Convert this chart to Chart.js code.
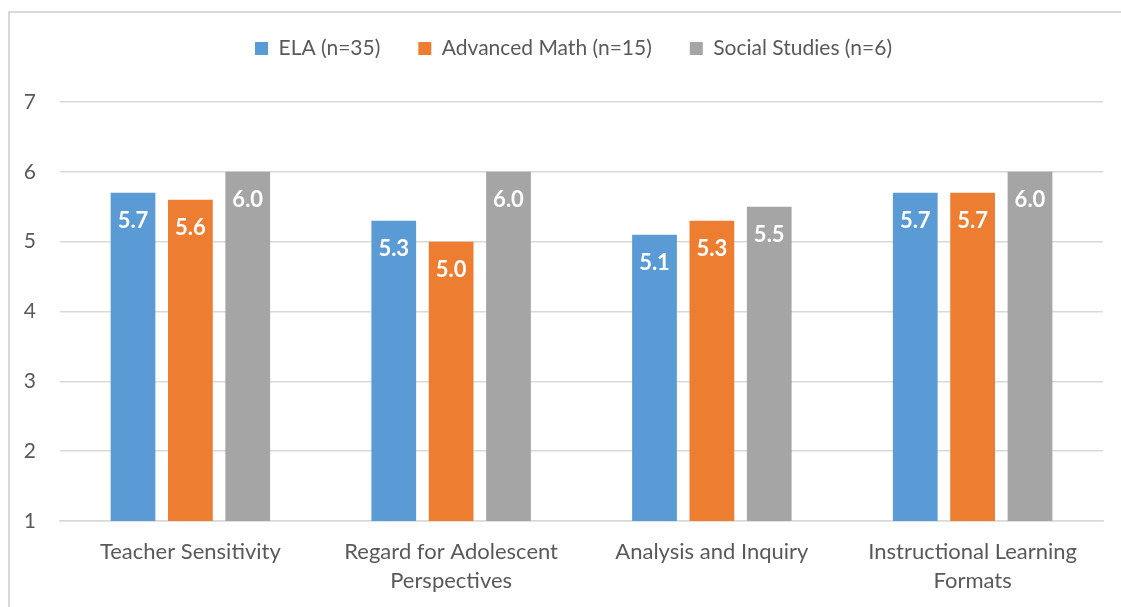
<!DOCTYPE html>
<html>
<head>
<meta charset="utf-8">
<script src="https://cdn.jsdelivr.net/npm/chart.js@4/dist/chart.umd.min.js"></script>
<style>
  html, body { margin: 0; padding: 0; background: #fff; overflow: hidden; }
  #frame {
    position: absolute; left: 8px; top: 11px;
    width: 1200px; height: 700px;
    border: 2px solid #d9d9d9; box-sizing: border-box;
  }
  #chart { position: absolute; left: 0; top: 0; }
</style>
</head>
<body>
<div id="frame"></div>
<canvas id="chart" width="1121" height="607"></canvas>
<script>
'use strict';

var categories = [
  'Teacher Sensitivity',
  ['Regard for Adolescent', 'Perspectives'],
  'Analysis and Inquiry',
  ['Instructional Learning', 'Formats']
];
var elaScores = [5.7, 5.3, 5.1, 5.7];
var mathScores = [5.6, 5.0, 5.3, 5.7];
var socialScores = [6.0, 6.0, 5.5, 6.0];
var seriesNames = ['ELA (n=35)', 'Advanced Math (n=15)', 'Social Studies (n=6)'];

var FONT = 'Lato, "Open Sans", sans-serif';
var textColor = '#595959';
var gridColor = '#d9d9d9';

// white value labels sitting just inside the top of each bar
var barValues = {
  id: 'barValues',
  afterDatasetsDraw: function(chart) {
    var ctx = chart.ctx;
    ctx.save();
    ctx.fillStyle = '#ffffff';
    ctx.font = 'bold 22px ' + FONT;
    ctx.textAlign = 'center';
    ctx.textBaseline = 'middle';
    chart.data.datasets.forEach(function(ds, i) {
      chart.getDatasetMeta(i).data.forEach(function(bar, j) {
        ctx.fillText(ds.data[j].toFixed(1), bar.x, bar.y + 28);
      });
    });
    ctx.restore();
  }
};

// legend: more room below it, and centred on the outer frame rather than the plot
var legendTweaks = {
  id: 'legendTweaks',
  beforeInit: function(chart) {
    var legend = chart.legend;
    var fit = legend.fit;
    var draw = legend.draw;
    legend.fit = function() {
      fit.bind(legend)();
      this.height += 33;
    };
    legend.draw = function() {
      var ctx = chart.ctx;
      ctx.save();
      ctx.translate(18, 0);
      draw.bind(legend)();
      ctx.restore();
    };
  }
};

Chart.defaults.font.family = FONT;
Chart.defaults.color = textColor;

new Chart(document.getElementById('chart'), {
  type: 'bar',
  data: {
    labels: categories,
    datasets: [
      { label: seriesNames[0], data: elaScores, backgroundColor: '#5b9bd5' },
      { label: seriesNames[1], data: mathScores, backgroundColor: '#ed7d31' },
      { label: seriesNames[2], data: socialScores, backgroundColor: '#a5a5a5' }
    ]
  },
  options: {
    responsive: false,
    animation: false,
    categoryPercentage: 0.66,
    barPercentage: 0.78,
    layout: { padding: { top: 0, left: 8, right: 18, bottom: 0 } },
    plugins: {
      tooltip: { enabled: false },
      legend: {
        position: 'top',
        labels: {
          boxWidth: 13, boxHeight: 13, padding: 38,
          font: { size: 21 }, color: textColor
        }
      }
    },
    scales: {
      x: {
        grid: { display: false, drawTicks: false },
        border: { color: gridColor, width: 1.5 },
        ticks: { font: { size: 22, lineHeight: 1.32 }, padding: 16, maxRotation: 0, autoSkip: false },
        afterFit: function(scale) { scale.height = 86; }
      },
      y: {
        min: 1, max: 7,
        ticks: { stepSize: 1, font: { size: 21 }, padding: 24 },
        grid: { color: gridColor, lineWidth: 1.5, drawTicks: false },
        border: { display: false },
        afterFit: function(scale) { scale.width = 52; }
      }
    }
  },
  plugins: [barValues, legendTweaks]
});
</script>
</body>
</html>
